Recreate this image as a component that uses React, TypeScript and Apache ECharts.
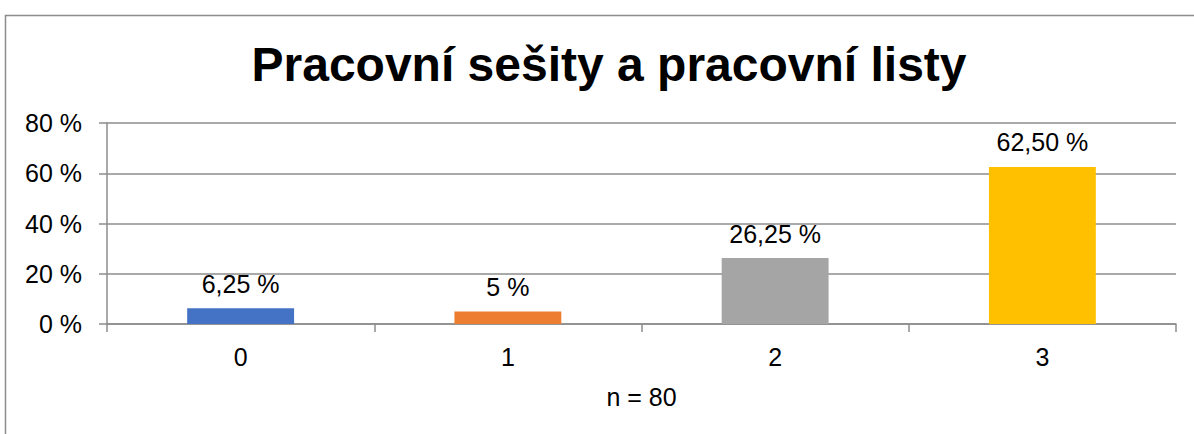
import React, { useEffect, useRef } from "react";
import * as echarts from "echarts";

const categories = ["0", "1", "2", "3"];
const values = [6.25, 5, 26.25, 62.5];
const valueLabels = ["6,25 %", "5 %", "26,25 %", "62,50 %"];
const barColors = ["#4472C4", "#ED7D31", "#A5A5A5", "#FFC000"];
const yTicks = { min: 0, max: 80, interval: 20 };
const titleText = "Pracovní sešity a pracovní listy";
const xAxisName = "n = 80";

export default function App() {
  const ref = useRef<HTMLDivElement>(null);
  useEffect(() => {
    if (!ref.current) return;
    const chart = echarts.init(ref.current, null, { renderer: "svg" });
    const font = "'Liberation Sans', Arial, sans-serif";
    const fs = 25;
    chart.setOption({
      animation: false,
      backgroundColor: "#ffffff",
      textStyle: { fontFamily: font },
      title: {
        text: titleText,
        left: 604,
        top: 35,
        textAlign: "center",
        textStyle: { fontFamily: font, fontSize: 48, fontWeight: "bold", color: "#000" },
      },
      graphic: [
        {
          type: "rect",
          shape: { x: 5.5, y: 15.5, width: 1230, height: 460 },
          style: { fill: "none", stroke: "#8c8c8c", lineWidth: 1.5 },
          silent: true,
        },
      ],
      grid: { left: 107, right: 18, top: 123, bottom: 110, containLabel: false },
      xAxis: {
        type: "category",
        data: categories,
        name: xAxisName,
        nameLocation: "middle",
        nameGap: 60,
        nameTextStyle: { fontFamily: font, fontSize: fs, color: "#000" },
        axisLine: { show: true, lineStyle: { color: "#8c8c8c", width: 1.5 } },
        axisTick: { show: true, alignWithLabel: false, length: 8, lineStyle: { color: "#8c8c8c", width: 1.5 } },
        axisLabel: { fontFamily: font, fontSize: fs, color: "#000", margin: 20 },
      },
      yAxis: {
        type: "value",
        min: yTicks.min,
        max: yTicks.max,
        interval: yTicks.interval,
        axisLine: { show: true, lineStyle: { color: "#8c8c8c", width: 1.5 } },
        axisTick: { show: true, length: 8, lineStyle: { color: "#8c8c8c", width: 1.5 } },
        splitLine: { show: true, lineStyle: { color: "#8c8c8c", width: 1.5 } },
        axisLabel: { fontFamily: font, fontSize: fs, color: "#000", margin: 25, formatter: "{value} %" },
      },
      series: [
        {
          type: "bar",
          barWidth: "40%",
          data: values.map((v, i) => ({
            value: v,
            itemStyle: { color: barColors[i] },
            label: { formatter: valueLabels[i] },
          })),
          label: {
            show: true,
            position: "top",
            distance: 12,
            fontFamily: font,
            fontSize: fs,
            color: "#000",
          },
        },
      ],
    });
    return () => chart.dispose();
  }, []);
  return (
    <div
      ref={ref}
      style={{ position: "absolute", left: 0, top: 0, width: 1194, height: 434 }}
    />
  );
}
